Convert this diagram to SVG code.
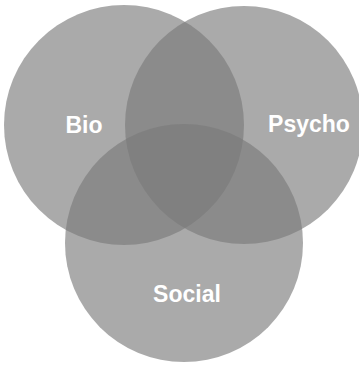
<svg xmlns="http://www.w3.org/2000/svg" width="359" height="365" viewBox="0 0 359 365">
<style>
.c{fill:#7a7a7a;fill-opacity:0.64}
.t{fill:#ffffff;font-family:"Liberation Sans",Arial,sans-serif;font-weight:bold;font-size:23px;text-anchor:middle}
</style>
<rect width="359" height="365" fill="#ffffff"/>
<g id="bio"><circle class="c" cx="124" cy="125" r="120"/></g>
<g id="psycho"><circle class="c" cx="244" cy="125" r="119"/></g>
<g id="social"><circle class="c" cx="184" cy="243" r="119"/></g>
<g id="labels">
<text class="t" x="84" y="133">Bio</text>
<text class="t" x="309" y="132">Psycho</text>
<text class="t" x="187" y="302">Social</text>
</g>
</svg>
